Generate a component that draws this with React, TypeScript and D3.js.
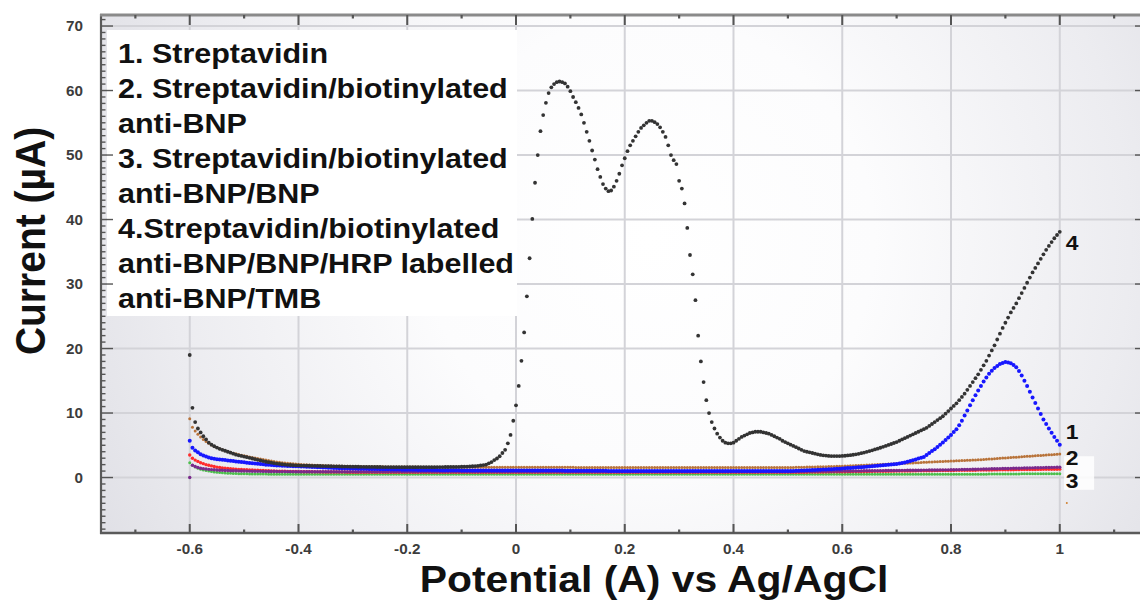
import React from 'react';
import * as d3 from 'd3';

// potential sweep: first sample and step (V)
const E_START = -0.6;
const E_STEP = 0.005;

// 4. Streptavidin/biotinylated anti-BNP/BNP/HRP labelled anti-BNP/TMB (black)
const curve4 = [
  19.0, 10.8, 8.6, 7.6, 7.0, 6.4, 5.9, 5.4, 5.1, 4.85, 4.65, 4.45, 4.3, 4.15, 4.0, 3.85, 3.7, 3.55, 3.45, 3.35,
  3.25, 3.15, 3.05, 2.95, 2.85, 2.75, 2.65, 2.55, 2.45, 2.38, 2.3, 2.23, 2.17, 2.11, 2.06, 2.01, 1.97, 1.94, 1.91, 1.89,
  1.87, 1.86, 1.85, 1.84, 1.83, 1.82, 1.81, 1.8, 1.79, 1.78, 1.77, 1.76, 1.75, 1.74, 1.73, 1.72, 1.71, 1.7, 1.7, 1.69,
  1.68, 1.68, 1.67, 1.66, 1.66, 1.65, 1.65, 1.64, 1.64, 1.63, 1.63, 1.62, 1.62, 1.62, 1.61, 1.61, 1.61, 1.6, 1.6, 1.6,
  1.6, 1.6, 1.6, 1.6, 1.6, 1.6, 1.6, 1.6, 1.61, 1.61, 1.61, 1.62, 1.62, 1.62, 1.63, 1.63, 1.64, 1.64, 1.65, 1.66,
  1.67, 1.68, 1.7, 1.72, 1.75, 1.78, 1.82, 1.87, 1.93, 2.0, 2.2, 2.4, 2.7, 2.95, 3.3, 3.8, 4.3, 5.3, 6.6, 8.8,
  11.2, 14.2, 18.1, 22.5, 28.1, 34.0, 40.1, 45.7, 50.0, 53.7, 56.2, 58.1, 59.6, 60.5, 61.0, 61.3, 61.4, 61.3, 61.1, 60.6,
  59.9, 59.0, 58.2, 57.3, 56.3, 55.0, 53.6, 52.2, 50.7, 49.3, 47.8, 46.6, 45.5, 44.8, 44.4, 44.5, 45.1, 46.0, 47.1, 48.4,
  49.5, 50.6, 51.5, 52.2, 52.9, 53.6, 54.2, 54.6, 55.0, 55.3, 55.3, 55.1, 54.8, 54.3, 53.6, 52.8, 51.5, 50.0, 49.2, 48.6,
  46.0, 44.8, 42.5, 38.7, 34.5, 31.5, 27.5, 22.0, 18.0, 14.8, 12.0, 10.0, 8.6, 7.6, 6.8, 6.2, 5.7, 5.4, 5.3, 5.3,
  5.4, 5.7, 6.0, 6.3, 6.5, 6.7, 6.9, 7.0, 7.1, 7.1, 7.1, 7.0, 6.9, 6.8, 6.6, 6.4, 6.2, 6.0, 5.7, 5.5,
  5.3, 5.1, 4.9, 4.7, 4.5, 4.3, 4.1, 4.0, 3.9, 3.8, 3.7, 3.6, 3.5, 3.45, 3.4, 3.35, 3.33, 3.32, 3.32, 3.33,
  3.35, 3.38, 3.42, 3.47, 3.53, 3.6, 3.68, 3.77, 3.87, 3.98, 4.1, 4.22, 4.35, 4.48, 4.62, 4.76, 4.9, 5.05, 5.2, 5.35,
  5.5, 5.7, 5.9, 6.1, 6.3, 6.5, 6.7, 6.9, 7.1, 7.3, 7.5, 7.7, 8.0, 8.3, 8.6, 8.9, 9.2, 9.5, 9.9, 10.3,
  10.7, 11.1, 11.5, 12.0, 12.5, 13.0, 13.6, 14.2, 14.8, 15.4, 16.0, 16.7, 17.4, 18.1, 18.9, 19.7, 20.5, 21.4, 22.3, 23.2,
  24.0, 24.8, 25.6, 26.3, 27.0, 27.8, 28.6, 29.4, 30.2, 31.0, 31.8, 32.5, 33.2, 33.9, 34.6, 35.3, 35.9, 36.5, 37.1, 37.6,
  38.1,
];

// 1. Streptavidin (blue)
const curve1 = [
  5.7, 4.6, 4.2, 3.9, 3.6, 3.4, 3.25, 3.1, 3.0, 2.9, 2.85, 2.8, 2.75, 2.7, 2.65, 2.6, 2.55, 2.5, 2.45, 2.4,
  2.35, 2.3, 2.25, 2.2, 2.16, 2.12, 2.08, 2.04, 2.0, 1.97, 1.94, 1.91, 1.88, 1.86, 1.84, 1.82, 1.8, 1.78, 1.76, 1.75,
  1.74, 1.72, 1.7, 1.68, 1.66, 1.64, 1.62, 1.6, 1.58, 1.56, 1.54, 1.52, 1.5, 1.48, 1.46, 1.45, 1.44, 1.43, 1.42, 1.41,
  1.4, 1.39, 1.38, 1.37, 1.36, 1.35, 1.34, 1.33, 1.32, 1.31, 1.3, 1.29, 1.28, 1.27, 1.26, 1.25, 1.24, 1.23, 1.22, 1.21,
  1.2, 1.2, 1.19, 1.19, 1.18, 1.18, 1.17, 1.17, 1.16, 1.16, 1.15, 1.15, 1.14, 1.14, 1.13, 1.13, 1.12, 1.12, 1.11, 1.11,
  1.1, 1.1, 1.1, 1.1, 1.1, 1.1, 1.1, 1.1, 1.1, 1.1, 1.1, 1.1, 1.1, 1.1, 1.1, 1.1, 1.1, 1.1, 1.1, 1.1,
  1.1, 1.1, 1.1, 1.1, 1.1, 1.1, 1.1, 1.1, 1.1, 1.1, 1.09, 1.09, 1.09, 1.09, 1.08, 1.08, 1.08, 1.08, 1.07, 1.07,
  1.07, 1.07, 1.06, 1.06, 1.06, 1.06, 1.05, 1.05, 1.05, 1.05, 1.04, 1.04, 1.04, 1.04, 1.03, 1.03, 1.03, 1.03, 1.02, 1.02,
  1.02, 1.02, 1.01, 1.01, 1.01, 1.01, 1.0, 1.0, 1.0, 1.0, 1.0, 1.0, 1.0, 1.0, 1.0, 1.0, 1.0, 1.0, 1.0, 1.0,
  1.0, 1.0, 1.0, 1.0, 1.0, 1.0, 1.0, 1.0, 1.0, 1.0, 1.0, 1.0, 1.0, 1.0, 1.0, 1.0, 1.0, 1.0, 1.0, 1.0,
  1.0, 1.0, 1.0, 1.0, 1.0, 1.0, 1.0, 1.0, 1.0, 1.0, 1.0, 1.0, 1.0, 1.0, 1.0, 1.0, 1.0, 1.0, 1.0, 1.0,
  1.0, 1.0, 1.02, 1.04, 1.06, 1.08, 1.1, 1.12, 1.14, 1.16, 1.18, 1.2, 1.22, 1.24, 1.26, 1.28, 1.3, 1.32, 1.35, 1.38,
  1.4, 1.43, 1.46, 1.49, 1.52, 1.55, 1.58, 1.61, 1.64, 1.67, 1.7, 1.74, 1.78, 1.82, 1.86, 1.9, 1.94, 1.98, 2.02, 2.06,
  2.1, 2.17, 2.25, 2.34, 2.44, 2.55, 2.67, 2.8, 2.94, 3.07, 3.2, 3.5, 3.8, 4.1, 4.4, 4.75, 5.1, 5.45, 5.8, 6.2,
  6.6, 7.05, 7.5, 8.1, 8.8, 9.6, 10.4, 11.2, 12.0, 12.75, 13.5, 14.2, 14.9, 15.5, 16.1, 16.55, 17.0, 17.3, 17.6, 17.75,
  17.9, 17.85, 17.7, 17.45, 17.1, 16.5, 15.8, 15.0, 14.2, 13.3, 12.4, 11.55, 10.7, 9.85, 9.0, 8.3, 7.6, 6.95, 6.3, 5.7,
  5.1,
];

// 2. Streptavidin/biotinylated anti-BNP (brown)
const curve2 = [
  9.1, 7.8, 7.2, 6.7, 6.3, 5.9, 5.6, 5.3, 5.05, 4.85, 4.65, 4.48, 4.32, 4.17, 4.03, 3.9, 3.78, 3.67, 3.57, 3.47,
  3.38, 3.29, 3.2, 3.12, 3.04, 2.96, 2.88, 2.8, 2.72, 2.64, 2.56, 2.49, 2.42, 2.36, 2.3, 2.25, 2.2, 2.16, 2.12, 2.08,
  2.05, 2.02, 2.0, 1.98, 1.96, 1.94, 1.92, 1.9, 1.88, 1.86, 1.84, 1.82, 1.8, 1.79, 1.78, 1.77, 1.76, 1.75, 1.74, 1.73,
  1.72, 1.71, 1.7, 1.7, 1.69, 1.69, 1.68, 1.68, 1.67, 1.67, 1.66, 1.66, 1.65, 1.65, 1.65, 1.64, 1.64, 1.64, 1.63, 1.63,
  1.63, 1.62, 1.62, 1.62, 1.62, 1.61, 1.61, 1.61, 1.61, 1.6, 1.6, 1.6, 1.6, 1.6, 1.6, 1.6, 1.6, 1.6, 1.6, 1.6,
  1.6, 1.6, 1.6, 1.6, 1.6, 1.6, 1.6, 1.6, 1.6, 1.6, 1.6, 1.6, 1.6, 1.6, 1.6, 1.6, 1.6, 1.6, 1.6, 1.6,
  1.6, 1.6, 1.6, 1.6, 1.6, 1.6, 1.6, 1.6, 1.6, 1.6, 1.59, 1.59, 1.59, 1.59, 1.59, 1.59, 1.58, 1.58, 1.58, 1.58,
  1.58, 1.58, 1.57, 1.57, 1.57, 1.57, 1.57, 1.57, 1.56, 1.56, 1.56, 1.56, 1.56, 1.56, 1.55, 1.55, 1.55, 1.55, 1.55, 1.55,
  1.55, 1.55, 1.55, 1.55, 1.55, 1.55, 1.55, 1.55, 1.55, 1.55, 1.55, 1.55, 1.55, 1.55, 1.55, 1.55, 1.55, 1.55, 1.55, 1.55,
  1.55, 1.55, 1.55, 1.55, 1.55, 1.55, 1.55, 1.55, 1.55, 1.55, 1.55, 1.55, 1.55, 1.55, 1.55, 1.55, 1.55, 1.55, 1.55, 1.55,
  1.55, 1.55, 1.55, 1.55, 1.55, 1.55, 1.55, 1.55, 1.55, 1.55, 1.55, 1.55, 1.55, 1.55, 1.55, 1.55, 1.55, 1.55, 1.55, 1.55,
  1.55, 1.56, 1.57, 1.58, 1.59, 1.6, 1.61, 1.62, 1.63, 1.64, 1.65, 1.66, 1.67, 1.68, 1.69, 1.7, 1.71, 1.72, 1.73, 1.74,
  1.75, 1.77, 1.79, 1.81, 1.83, 1.85, 1.87, 1.89, 1.91, 1.93, 1.95, 1.97, 1.99, 2.01, 2.03, 2.05, 2.07, 2.09, 2.11, 2.13,
  2.15, 2.17, 2.19, 2.21, 2.23, 2.25, 2.27, 2.29, 2.31, 2.33, 2.35, 2.37, 2.39, 2.41, 2.43, 2.45, 2.47, 2.49, 2.51, 2.53,
  2.55, 2.57, 2.59, 2.61, 2.63, 2.65, 2.67, 2.69, 2.71, 2.73, 2.75, 2.77, 2.8, 2.83, 2.86, 2.89, 2.92, 2.95, 2.98, 3.01,
  3.04, 3.07, 3.1, 3.13, 3.16, 3.19, 3.22, 3.25, 3.28, 3.31, 3.34, 3.37, 3.4, 3.43, 3.46, 3.49, 3.52, 3.55, 3.58, 3.61,
  3.64,
];

// 3. Streptavidin/biotinylated anti-BNP/BNP (red)
const curve3 = [
  3.5, 3.0, 2.7, 2.5, 2.3, 2.15, 2.0, 1.9, 1.8, 1.7, 1.62, 1.55, 1.49, 1.44, 1.4, 1.36, 1.33, 1.3, 1.27, 1.25,
  1.23, 1.21, 1.19, 1.17, 1.15, 1.13, 1.11, 1.09, 1.07, 1.05, 1.03, 1.01, 1.0, 0.99, 0.98, 0.97, 0.96, 0.95, 0.94, 0.93,
  0.92, 0.91, 0.9, 0.9, 0.89, 0.89, 0.88, 0.88, 0.87, 0.87, 0.86, 0.86, 0.85, 0.85, 0.85, 0.84, 0.84, 0.84, 0.83, 0.83,
  0.83, 0.82, 0.82, 0.82, 0.82, 0.81, 0.81, 0.81, 0.81, 0.81, 0.8, 0.8, 0.8, 0.8, 0.8, 0.8, 0.8, 0.8, 0.8, 0.8,
  0.8, 0.8, 0.8, 0.8, 0.8, 0.8, 0.8, 0.8, 0.8, 0.8, 0.8, 0.8, 0.8, 0.8, 0.8, 0.8, 0.8, 0.8, 0.8, 0.8,
  0.8, 0.8, 0.8, 0.8, 0.8, 0.8, 0.8, 0.8, 0.8, 0.8, 0.8, 0.8, 0.8, 0.8, 0.8, 0.8, 0.8, 0.8, 0.8, 0.8,
  0.8, 0.8, 0.8, 0.8, 0.8, 0.8, 0.8, 0.8, 0.8, 0.8, 0.8, 0.8, 0.8, 0.8, 0.8, 0.8, 0.8, 0.8, 0.8, 0.8,
  0.8, 0.8, 0.8, 0.8, 0.8, 0.8, 0.8, 0.8, 0.8, 0.8, 0.8, 0.8, 0.8, 0.8, 0.8, 0.8, 0.8, 0.8, 0.8, 0.8,
  0.8, 0.8, 0.8, 0.8, 0.8, 0.8, 0.8, 0.8, 0.8, 0.8, 0.8, 0.8, 0.8, 0.8, 0.8, 0.8, 0.8, 0.8, 0.8, 0.8,
  0.8, 0.8, 0.8, 0.8, 0.8, 0.8, 0.8, 0.8, 0.8, 0.8, 0.8, 0.8, 0.8, 0.8, 0.8, 0.8, 0.8, 0.8, 0.8, 0.8,
  0.8, 0.8, 0.8, 0.8, 0.8, 0.8, 0.8, 0.8, 0.8, 0.8, 0.8, 0.8, 0.8, 0.8, 0.8, 0.8, 0.8, 0.8, 0.8, 0.8,
  0.8, 0.8, 0.81, 0.81, 0.82, 0.82, 0.83, 0.83, 0.84, 0.84, 0.85, 0.85, 0.86, 0.86, 0.87, 0.87, 0.88, 0.88, 0.89, 0.89,
  0.9, 0.9, 0.91, 0.91, 0.92, 0.92, 0.93, 0.93, 0.94, 0.94, 0.95, 0.95, 0.96, 0.96, 0.97, 0.97, 0.98, 0.98, 0.99, 0.99,
  1.0, 1.0, 1.01, 1.01, 1.02, 1.02, 1.03, 1.03, 1.04, 1.04, 1.05, 1.05, 1.06, 1.06, 1.07, 1.07, 1.08, 1.08, 1.09, 1.09,
  1.1, 1.1, 1.11, 1.11, 1.12, 1.12, 1.13, 1.13, 1.14, 1.14, 1.15, 1.15, 1.16, 1.16, 1.17, 1.17, 1.18, 1.18, 1.19, 1.19,
  1.2, 1.2, 1.21, 1.21, 1.22, 1.22, 1.23, 1.23, 1.24, 1.24, 1.25, 1.25, 1.26, 1.26, 1.27, 1.27, 1.28, 1.28, 1.29, 1.29,
  1.3,
];

// extra traces recorded with the same sweep (purple, green)
const curvePurple = [
  0.0, 1.9, 1.7, 1.55, 1.45, 1.38, 1.32, 1.27, 1.23, 1.2, 1.17, 1.14, 1.12, 1.1, 1.08, 1.06, 1.05, 1.04, 1.03, 1.02,
  1.01, 1.0, 0.99, 0.98, 0.97, 0.96, 0.96, 0.95, 0.95, 0.94, 0.94, 0.93, 0.93, 0.92, 0.92, 0.92, 0.91, 0.91, 0.91, 0.9,
  0.9, 0.9, 0.9, 0.9, 0.9, 0.9, 0.9, 0.9, 0.9, 0.9, 0.9, 0.9, 0.9, 0.9, 0.9, 0.9, 0.9, 0.9, 0.9, 0.9,
  0.9, 0.9, 0.9, 0.9, 0.9, 0.9, 0.9, 0.9, 0.9, 0.9, 0.9, 0.9, 0.9, 0.9, 0.9, 0.9, 0.9, 0.9, 0.9, 0.9,
  0.9, 0.9, 0.9, 0.9, 0.9, 0.9, 0.9, 0.9, 0.9, 0.9, 0.9, 0.9, 0.9, 0.9, 0.9, 0.9, 0.9, 0.9, 0.9, 0.9,
  0.9, 0.9, 0.9, 0.9, 0.9, 0.9, 0.9, 0.9, 0.9, 0.9, 0.9, 0.9, 0.9, 0.9, 0.9, 0.9, 0.9, 0.9, 0.9, 0.9,
  0.9, 0.9, 0.9, 0.9, 0.9, 0.9, 0.9, 0.9, 0.9, 0.9, 0.9, 0.9, 0.9, 0.9, 0.9, 0.9, 0.9, 0.9, 0.9, 0.9,
  0.9, 0.9, 0.9, 0.9, 0.9, 0.9, 0.9, 0.9, 0.9, 0.9, 0.9, 0.9, 0.9, 0.9, 0.9, 0.9, 0.9, 0.9, 0.9, 0.9,
  0.9, 0.9, 0.9, 0.9, 0.9, 0.9, 0.9, 0.9, 0.9, 0.9, 0.9, 0.9, 0.9, 0.9, 0.9, 0.9, 0.9, 0.9, 0.9, 0.9,
  0.9, 0.9, 0.9, 0.9, 0.9, 0.9, 0.9, 0.9, 0.9, 0.9, 0.9, 0.9, 0.9, 0.9, 0.9, 0.9, 0.9, 0.9, 0.9, 0.9,
  0.9, 0.9, 0.9, 0.9, 0.9, 0.9, 0.9, 0.9, 0.9, 0.9, 0.9, 0.9, 0.9, 0.9, 0.9, 0.9, 0.9, 0.9, 0.9, 0.9,
  0.9, 0.9, 0.91, 0.91, 0.92, 0.92, 0.93, 0.93, 0.94, 0.94, 0.95, 0.95, 0.96, 0.96, 0.97, 0.97, 0.98, 0.98, 0.99, 0.99,
  1.0, 1.0, 1.01, 1.01, 1.02, 1.02, 1.03, 1.03, 1.04, 1.04, 1.05, 1.05, 1.06, 1.06, 1.07, 1.07, 1.08, 1.08, 1.09, 1.09,
  1.1, 1.1, 1.11, 1.11, 1.12, 1.12, 1.13, 1.13, 1.14, 1.14, 1.15, 1.15, 1.16, 1.16, 1.17, 1.17, 1.18, 1.18, 1.19, 1.19,
  1.2, 1.21, 1.22, 1.23, 1.24, 1.25, 1.26, 1.27, 1.28, 1.29, 1.3, 1.31, 1.32, 1.33, 1.34, 1.35, 1.36, 1.37, 1.38, 1.39,
  1.4, 1.41, 1.42, 1.43, 1.44, 1.45, 1.46, 1.47, 1.48, 1.49, 1.5, 1.51, 1.52, 1.53, 1.54, 1.55, 1.56, 1.57, 1.58, 1.59,
  1.6,
];

const curveGreen = [
  2.3, 1.9, 1.65, 1.45, 1.3, 1.18, 1.08, 1.0, 0.93, 0.87, 0.82, 0.78, 0.74, 0.71, 0.68, 0.66, 0.64, 0.62, 0.6, 0.59,
  0.58, 0.57, 0.56, 0.55, 0.55, 0.54, 0.54, 0.53, 0.53, 0.52, 0.52, 0.52, 0.51, 0.51, 0.51, 0.5, 0.5, 0.5, 0.5, 0.5,
  0.5, 0.5, 0.5, 0.5, 0.5, 0.5, 0.5, 0.5, 0.5, 0.5, 0.5, 0.5, 0.5, 0.5, 0.5, 0.5, 0.5, 0.5, 0.5, 0.5,
  0.5, 0.5, 0.5, 0.5, 0.5, 0.5, 0.5, 0.5, 0.5, 0.5, 0.5, 0.5, 0.5, 0.5, 0.5, 0.5, 0.5, 0.5, 0.5, 0.5,
  0.5, 0.5, 0.5, 0.5, 0.5, 0.5, 0.5, 0.5, 0.5, 0.5, 0.5, 0.5, 0.5, 0.5, 0.5, 0.5, 0.5, 0.5, 0.5, 0.5,
  0.5, 0.5, 0.5, 0.5, 0.5, 0.5, 0.5, 0.5, 0.5, 0.5, 0.5, 0.5, 0.5, 0.5, 0.5, 0.5, 0.5, 0.5, 0.5, 0.5,
  0.5, 0.5, 0.5, 0.5, 0.5, 0.5, 0.5, 0.5, 0.5, 0.5, 0.5, 0.5, 0.5, 0.5, 0.5, 0.5, 0.5, 0.5, 0.5, 0.5,
  0.5, 0.5, 0.5, 0.5, 0.5, 0.5, 0.5, 0.5, 0.5, 0.5, 0.5, 0.5, 0.5, 0.5, 0.5, 0.5, 0.5, 0.5, 0.5, 0.5,
  0.5, 0.5, 0.5, 0.5, 0.5, 0.5, 0.5, 0.5, 0.5, 0.5, 0.5, 0.5, 0.5, 0.5, 0.5, 0.5, 0.5, 0.5, 0.5, 0.5,
  0.5, 0.5, 0.5, 0.5, 0.5, 0.5, 0.5, 0.5, 0.5, 0.5, 0.5, 0.5, 0.5, 0.5, 0.5, 0.5, 0.5, 0.5, 0.5, 0.5,
  0.5, 0.5, 0.5, 0.5, 0.5, 0.5, 0.5, 0.5, 0.5, 0.5, 0.5, 0.5, 0.5, 0.5, 0.5, 0.5, 0.5, 0.5, 0.5, 0.5,
  0.5, 0.5, 0.5, 0.5, 0.5, 0.5, 0.5, 0.5, 0.5, 0.5, 0.5, 0.5, 0.5, 0.5, 0.5, 0.5, 0.5, 0.5, 0.5, 0.5,
  0.5, 0.5, 0.5, 0.5, 0.5, 0.5, 0.5, 0.5, 0.5, 0.5, 0.5, 0.5, 0.5, 0.5, 0.5, 0.5, 0.5, 0.5, 0.5, 0.5,
  0.5, 0.5, 0.5, 0.5, 0.5, 0.5, 0.5, 0.5, 0.5, 0.5, 0.5, 0.5, 0.5, 0.5, 0.5, 0.5, 0.5, 0.5, 0.5, 0.5,
  0.5, 0.5, 0.5, 0.5, 0.5, 0.5, 0.5, 0.5, 0.51, 0.51, 0.51, 0.52, 0.52, 0.52, 0.53, 0.53, 0.53, 0.54, 0.54, 0.54,
  0.55, 0.55, 0.55, 0.56, 0.56, 0.56, 0.57, 0.57, 0.57, 0.58, 0.58, 0.58, 0.59, 0.59, 0.59, 0.6, 0.6, 0.6, 0.6, 0.6,
  0.6,
];

// lone point below the end of trace 2
const strayPoint = [1.013, -3.95];

const xTicks = [-0.6, -0.4, -0.2, 0, 0.2, 0.4, 0.6, 0.8, 1];
const xTickLabels = ['-0.6', '-0.4', '-0.2', '0', '0.2', '0.4', '0.6', '0.8', '1'];
const yTicks = [0, 10, 20, 30, 40, 50, 60, 70];

const legendLines = [
  '1. Streptavidin',
  '2. Streptavidin/biotinylated',
  'anti-BNP',
  '3. Streptavidin/biotinylated',
  'anti-BNP/BNP',
  '4.Streptavidin/biotinylated',
  'anti-BNP/BNP/HRP labelled',
  'anti-BNP/TMB',
];

const curveLabels = [
  { text: '4', e: 1.011, i: 35.3 },
  { text: '1', e: 1.011, i: 6.0 },
  { text: '2', e: 1.011, i: 1.9 },
  { text: '3', e: 1.011, i: -1.6 },
];

const FONT = "'Liberation Sans', Arial, sans-serif";
const SX = 1.09; // the picture is slightly stretched horizontally

const App = () => {
  const x = d3.scaleLinear().domain([-0.7632, 1.1494]).range([101, 1141]);
  const y = d3.scaleLinear().domain([-8.6, 71.71]).range([533, 15]);
  const [x0, x1] = x.range();
  const [y0, y1] = y.range();

  const series = [
    { key: 'green', values: curveGreen, color: '#4cbf4c', r: 1.5 },
    { key: 'red', values: curve3, color: '#ff2b2b', r: 1.7 },
    { key: 'purple', values: curvePurple, color: '#7a2a8c', r: 1.7 },
    { key: 'brown', values: curve2, color: '#b8733a', r: 1.5 },
    { key: 'blue', values: curve1, color: '#1717ff', r: 2.0 },
    { key: 'black', values: curve4, color: '#333333', r: 1.9 },
  ];

  const xMinor = d3.range(-7, 12).map((k) => k / 10).filter((v) => Math.abs(Math.round(v * 10)) % 2 === 1);
  const yMinor = d3.range(-8, 72);

  return (
    <svg width={1140} height={601} style={{ position: 'absolute', left: 0, top: 0, background: '#fff' }}>
      <defs>
        <radialGradient id="bg" gradientUnits="userSpaceOnUse" cx={650} cy={240} r={640}>
          <stop offset="0" stopColor="#ffffff" />
          <stop offset="0.35" stopColor="#fcfcfd" />
          <stop offset="0.75" stopColor="#ececf0" />
          <stop offset="1" stopColor="#dfdfe5" />
        </radialGradient>
        <clipPath id="plot">
          <rect x={x0} y={y1} width={x1 - x0} height={y0 - y1} />
        </clipPath>
      </defs>

      <rect x={x0} y={y1} width={x1 - x0} height={y0 - y1} fill="url(#bg)" />

      {/* grid */}
      <g stroke="#d3d3d8" strokeWidth={2}>
        {xTicks.map((v) => (
          <line key={'gx' + v} x1={x(v)} x2={x(v)} y1={y1} y2={y0} />
        ))}
        {yTicks.map((v) => (
          <line key={'gy' + v} x1={x0} x2={x1} y1={y(v)} y2={y(v)} />
        ))}
      </g>

      {/* legend box */}
      <rect x={107} y={30} width={410} height={286} fill="#ffffff" />
      <g fontFamily={FONT} fontWeight="bold" fontSize={28} fill="#111">
        {legendLines.map((t, k) => (
          <text key={k} transform={`translate(118,${63 + k * 35.05}) scale(${SX},1)`}>
            {t}
          </text>
        ))}
      </g>

      {/* data */}
      <g clipPath="url(#plot)">
        {series.map((s) => (
          <g key={s.key} fill={s.color}>
            {s.values.map((v, k) => (
              <circle key={k} cx={x(E_START + k * E_STEP)} cy={y(v)} r={s.r} />
            ))}
          </g>
        ))}
        <circle cx={x(strayPoint[0])} cy={y(strayPoint[1])} r={1} fill="#d08030" />
      </g>

      {/* frame */}
      <g stroke="#5a5a5a" fill="none">
        <line x1={x0} x2={x0} y1={y1 - 1} y2={y0 + 1} strokeWidth={2.2} />
        <line x1={x0 - 1} x2={x1} y1={y0} y2={y0} strokeWidth={2.6} />
        <line x1={x0 - 1} x2={x1} y1={y1} y2={y1} strokeWidth={3} stroke="#8a8a8a" />
      </g>

      {/* ticks */}
      <g stroke="#555" strokeWidth={1.4}>
        {yMinor.map((v) => (
          <line key={'ym' + v} x1={x0} x2={x0 + (v % 10 === 0 ? 12 : 4.5)} y1={y(v)} y2={y(v)} />
        ))}
        {yTicks.map((v) => (
          <line key={'yr' + v} x1={x1 - 6} x2={x1} y1={y(v)} y2={y(v)} />
        ))}
        {xTicks.map((v) => (
          <g key={'xt' + v}>
            <line x1={x(v)} x2={x(v)} y1={y0} y2={y0 - 9} strokeWidth={2} />
            <line x1={x(v)} x2={x(v)} y1={y1} y2={y1 + 10} strokeWidth={2} />
          </g>
        ))}
        {xMinor.map((v) => (
          <g key={'xm' + v}>
            <line x1={x(v)} x2={x(v)} y1={y0} y2={y0 - 3.5} strokeWidth={2.2} />
            <line x1={x(v)} x2={x(v)} y1={y1} y2={y1 + 3.5} strokeWidth={2.2} />
          </g>
        ))}
      </g>

      {/* tick labels */}
      <g fontFamily={FONT} fontWeight="bold" fontSize={14} fill="#3c3c3c">
        {yTicks.map((v) => (
          <text key={'yl' + v} transform={`translate(83,${y(v) + 5}) scale(${SX},1)`} textAnchor="end">
            {v}
          </text>
        ))}
        {xTicks.map((v, k) => (
          <text key={'xl' + v} transform={`translate(${x(v)},554) scale(${SX},1)`} textAnchor="middle">
            {xTickLabels[k]}
          </text>
        ))}
      </g>

      {/* curve numbers */}
      <rect x={x(1.008)} y={y(3.3)} width={30} height={y(-1.9) - y(3.3)} fill="#ffffff" opacity={0.85} />
      <g fontFamily={FONT} fontWeight="bold" fontSize={21} fill="#111">
        {curveLabels.map((c) => (
          <text key={c.text} transform={`translate(${x(c.e)},${y(c.i)}) scale(${SX},1)`}>
            {c.text}
          </text>
        ))}
      </g>

      {/* axis titles */}
      <text
        transform={`translate(45,241) rotate(-90) scale(1,${SX})`}
        textAnchor="middle"
        fontFamily={FONT}
        fontWeight="bold"
        fontSize={39}
        fill="#111"
      >
        Current (µA)
      </text>
      <text
        transform={`translate(654,592) scale(${SX},1)`}
        textAnchor="middle"
        fontFamily={FONT}
        fontWeight="bold"
        fontSize={37.5}
        fill="#111"
      >
        Potential (A) vs Ag/AgCl
      </text>
    </svg>
  );
};

export default App;
